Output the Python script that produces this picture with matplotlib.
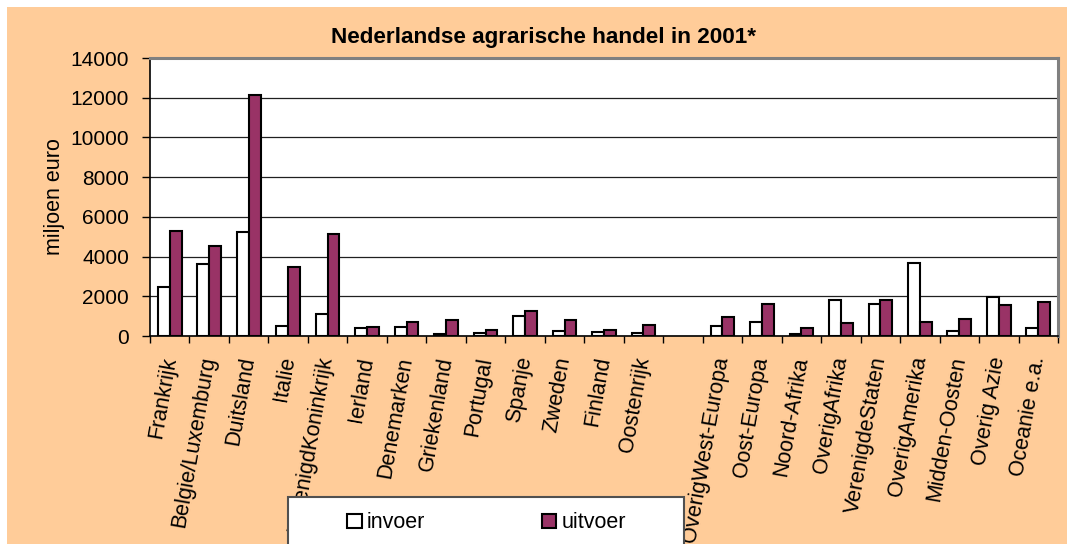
import numpy as np
import matplotlib
matplotlib.use("Agg")
import matplotlib.pyplot as plt
from matplotlib.patches import Rectangle

plt.rcParams['font.family'] = ['Liberation Sans', 'DejaVu Sans']

categories = ["Frankrijk", "Belgie/Luxemburg", "Duitsland", "Italie", "VerenigdKoninkrijk",
              "Ierland", "Denemarken", "Griekenland", "Portugal", "Spanje", "Zweden",
              "Finland", "Oostenrijk", "", "OverigWest-Europa", "Oost-Europa",
              "Noord-Afrika", "OverigAfrika", "VerenigdeStaten", "OverigAmerika",
              "Midden-Oosten", "Overig Azie", "Oceanie e.a."]
invoer = [2450, 3650, 5250, 500, 1130, 390, 450, 110, 170, 1030, 270, 200, 150, None,
          500, 730, 110, 1790, 1600, 3660, 240, 1980, 390]
uitvoer = [5270, 4510, 12120, 3450, 5150, 470, 680, 810, 300, 1250, 790, 290, 570, None,
           980, 1620, 390, 660, 1790, 730, 840, 1540, 1700]
yticks = [0, 2000, 4000, 6000, 8000, 10000, 12000, 14000]

W, H = 1067, 544
fig = plt.figure(figsize=(W / 100, H / 100), dpi=100, facecolor='white')
fig.patches.append(Rectangle((7 / W, 0), 1, 1 - 7 / H, transform=fig.transFigure,
                             facecolor='#FFCC99', edgecolor='none', zorder=-10))

ax = fig.add_axes([150 / W, 1 - 336 / H, (1058 - 150) / W, (336 - 58) / H])
ax.set_facecolor('white')

x = np.arange(len(categories))
inv = np.array([np.nan if v is None else v for v in invoer], dtype=float)
uit = np.array([np.nan if v is None else v for v in uitvoer], dtype=float)
bw = 0.3
b1 = ax.bar(x - bw / 2, inv, width=bw, color='white', edgecolor='black', linewidth=1.5,
            label='invoer', zorder=3)
b2 = ax.bar(x + bw / 2, uit, width=bw, color='#993366', edgecolor='black', linewidth=1.5,
            label='uitvoer', zorder=3)

ax.set_xlim(-0.5, len(categories) - 0.5)
ax.set_ylim(0, 14000)
ax.set_yticks(yticks)
ax.set_yticklabels([str(t) for t in yticks], fontsize=15)
ax.yaxis.grid(True, color='#202020', linewidth=0.9, zorder=0)
ax.set_axisbelow(True)

ax.set_xticks(np.arange(len(categories) + 1) - 0.5)
ax.set_xticklabels([])
ax.set_xticks(x, minor=True)
ax.set_xticklabels(categories, minor=True, rotation=80, rotation_mode='anchor',
                   ha='right', va='center', fontsize=15.5)
ax.tick_params(axis='x', which='minor', length=0, pad=15)
ax.tick_params(axis='x', which='major', direction='out', length=5, width=1, color='black')
ax.tick_params(axis='y', direction='out', length=6, width=1, color='black', pad=9)

for s in ['left', 'bottom']:
    ax.spines[s].set_color('black')
    ax.spines[s].set_linewidth(1.2)
for s in ['top', 'right']:
    ax.spines[s].set_color('#808080')
    ax.spines[s].set_linewidth(2.2)

ax.set_ylabel('miljoen euro', fontsize=15.5)
ax.yaxis.set_label_coords(-0.094, 0.5)

fig.text(0.509, 1 - 38 / H, 'Nederlandse agrarische handel in 2001*', ha='center',
         va='center', fontsize=16.2, fontweight='bold')

# legend box
fig.patches.append(Rectangle((288 / W, -0.05), (684 - 288) / W, 0.05 + 1 - 497 / H,
                             transform=fig.transFigure, facecolor='white',
                             edgecolor='#505050', linewidth=1.5, zorder=5))
leg = fig.legend(handles=[b1, b2], labels=['invoer', 'uitvoer'], ncol=2, frameon=False,
                 loc='center left', bbox_to_anchor=(347 / W, 1 - 523 / H),
                 fontsize=15.5, handlelength=0.68, handleheight=0.68, handletextpad=0.25,
                 columnspacing=5.4, borderpad=0, borderaxespad=0)
leg.set_zorder(6)

fig.savefig('out.png', dpi=100, facecolor=fig.get_facecolor())
